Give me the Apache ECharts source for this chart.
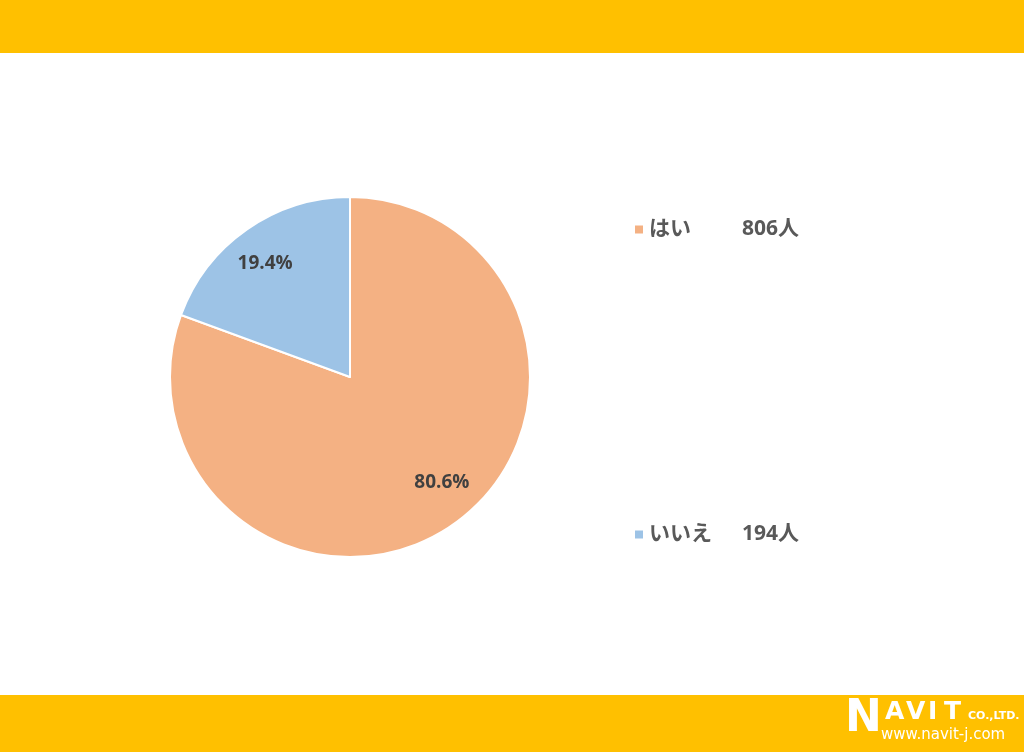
<!DOCTYPE html>
<html><head><meta charset="utf-8">
<script src="https://cdn.jsdelivr.net/npm/echarts@6/dist/echarts.min.js"></script>
<style>html,body{margin:0;padding:0;background:#fff}#c{width:1024px;height:752px}</style>
</head><body><div id="c"></div>
<script>
const categories = ['はい', 'いいえ'];
const counts = [806, 194];
const percentLabels = ['80.6%', '19.4%'];
const colors = ['#F4B183', '#9DC3E6'];

const chart = echarts.init(document.getElementById('c'));
const font = '"Open Sans","Noto Sans CJK JP",sans-serif';
const data = categories.map((c, i) => ({ name: c, value: counts[i], itemStyle: { color: colors[i] } }));
const labelOffsets = [[10, -12], [-3, 4]];
const overlay = categories.map((c, i) => ({ name: c, value: counts[i], label: { offset: labelOffsets[i] } }));

chart.setOption({
  animation: false,
  graphic: [
    { type: 'rect', left: 0, top: 0, shape: { width: 1024, height: 53 }, style: { fill: '#FFC000' }, silent: true },
    { type: 'rect', left: 0, top: 695, shape: { width: 1024, height: 57 }, style: { fill: '#FFC000' }, silent: true },
    { type: 'text', left: 845, top: 698, style: { text: 'N', fill: '#fff', font: 'bold 44px "DejaVu Sans"' } },
    { type: 'text', left: 885, top: 700, style: { text: 'A', fill: '#fff', font: 'bold 25px "DejaVu Sans"' } },
    { type: 'text', left: 906, top: 700, style: { text: 'V', fill: '#fff', font: 'bold 25px "DejaVu Sans"' } },
    { type: 'text', left: 928, top: 700, style: { text: 'I', fill: '#fff', font: 'bold 25px "DejaVu Sans"' } },
    { type: 'text', left: 944, top: 700, style: { text: 'T', fill: '#fff', font: 'bold 25px "DejaVu Sans"' } },
    { type: 'text', left: 968, top: 711, style: { text: 'CO.,LTD.', fill: '#fff', font: 'bold 11px "DejaVu Sans"' } },
    { type: 'text', left: 881, top: 728, style: { text: 'www.navit-j.com', fill: '#fff', font: '15px "DejaVu Sans"' } }
  ],
  legend: {
    orient: 'vertical',
    left: 628,
    top: 214,
    itemGap: 284,
    itemWidth: 10,
    itemHeight: 10,
    icon: 'rect',
    data: categories,
    formatter: function (name) {
      const i = categories.indexOf(name);
      return '{n|' + name + '}{v|' + counts[i] + '人}';
    },
    textStyle: {
      rich: {
        n: { width: 93, fontSize: 21, fontWeight: 'bold', color: '#595959', fontFamily: font },
        v: { fontSize: 21, fontWeight: 'bold', color: '#595959', fontFamily: font }
      }
    }
  },
  series: [
    {
      type: 'pie',
      center: [350, 377],
      radius: [0, 180],
      startAngle: 90,
      clockwise: true,
      label: { show: false },
      labelLine: { show: false },
      itemStyle: { borderColor: '#fff', borderWidth: 2 },
      emphasis: { disabled: true },
      data: data
    },
    {
      type: 'pie',
      center: [350, 377],
      radius: [100, 180],
      startAngle: 90,
      clockwise: true,
      silent: true,
      itemStyle: { color: 'rgba(0,0,0,0)' },
      label: {
        show: true,
        position: 'inside',
        formatter: function (p) { return percentLabels[p.dataIndex]; },
        fontSize: 19,
        fontWeight: 'bold',
        color: '#404040',
        fontFamily: font
      },
      labelLine: { show: false },
      data: overlay
    }
  ]
});
</script></body></html>
